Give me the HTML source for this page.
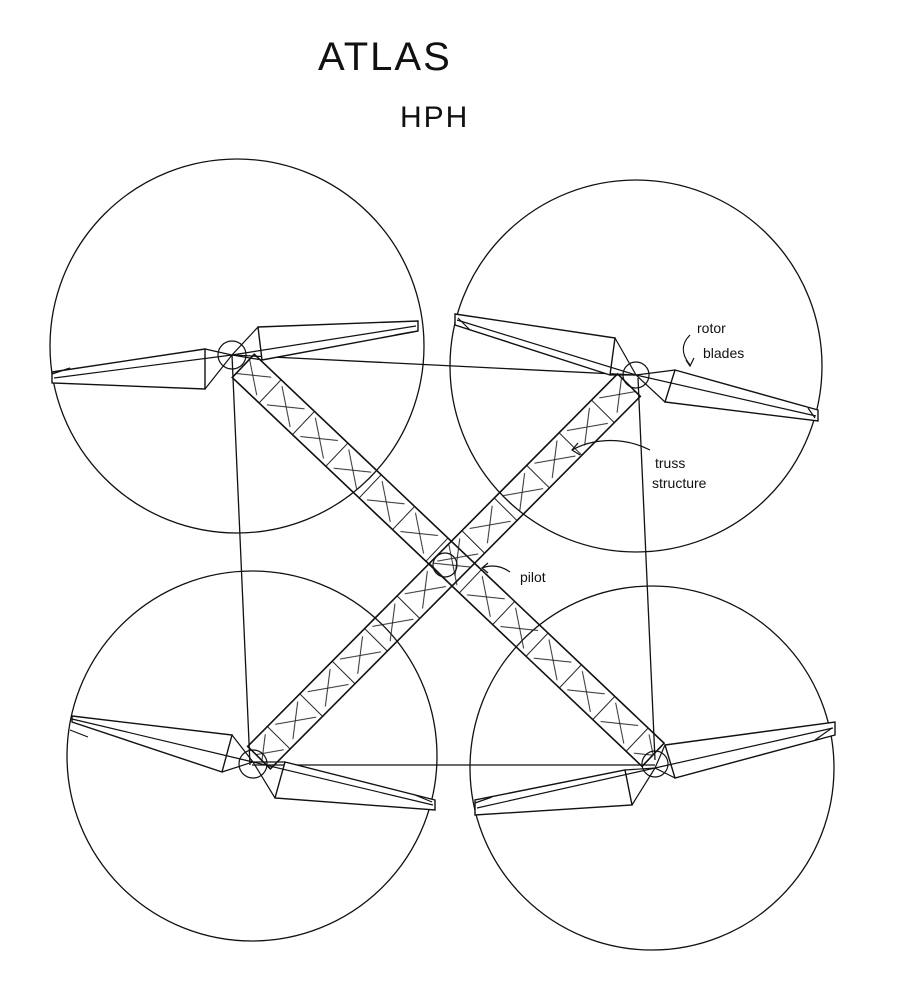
<!DOCTYPE html>
<html><head><meta charset="utf-8"><style>
html,body{margin:0;padding:0;background:#fff;}
svg{display:block}
text{font-family:"Liberation Sans",sans-serif;fill:#111}
</style></head><body>
<svg width="900" height="990" viewBox="0 0 900 990" xmlns="http://www.w3.org/2000/svg">
<defs>
<pattern id="tr" x="0" y="-16" width="46" height="32" patternUnits="userSpaceOnUse">
<path d="M1,0 L1,32 M6,4 L40,28 M8,28 L38,5" stroke="#222" stroke-width="1" fill="none"/>
</pattern>
</defs>
<g fill="none" stroke="#111" stroke-width="1.3">
<circle cx="237" cy="346" r="187"/>
<circle cx="636" cy="366" r="186"/>
<circle cx="252" cy="756" r="185"/>
<circle cx="652" cy="768" r="182"/>
<line x1="232" y1="355" x2="635" y2="375"/>
<line x1="232" y1="355" x2="250" y2="765"/>
<line x1="252" y1="765" x2="655" y2="765"/>
<line x1="638" y1="378" x2="655" y2="760"/>
</g>
<!-- trusses -->
<g transform="translate(236,359) rotate(43.5)">
<rect x="10" y="-16" width="565" height="32" fill="url(#tr)" stroke="#111" stroke-width="1.6"/>
</g>
<g transform="translate(636,378) rotate(134.8)">
<rect x="10" y="-16" width="525" height="32" fill="url(#tr)" stroke="#111" stroke-width="1.6"/>
</g>
<g fill="#fff" stroke="#111" stroke-width="1.4">
<!-- TL blades -->
<polygon points="52,372 205,349 205,389 52,383"/>
<polygon points="258,327 418,321 418,331 262,360"/>
<!-- TR blades -->
<polygon points="455,314 615,338 610,375 455,325"/>
<polygon points="675,370 818,410 818,421 665,402"/>
<!-- BL blades -->
<polygon points="72,716 232,735 222,772 72,722"/>
<polygon points="285,762 435,800 435,810 275,798"/>
<!-- BR blades -->
<polygon points="625,770 632,805 475,815 475,800"/>
<polygon points="665,745 835,722 835,735 675,778"/>
</g>
<g fill="none" stroke="#111" stroke-width="1.2">
<!-- bowties -->
<path d="M205,349 L232,355 L205,389 M258,327 L232,355 L262,360"/>
<path d="M615,338 L636,375 L610,375 M675,370 L636,375 L665,402"/>
<path d="M232,735 L253,762 L222,772 M285,762 L253,762 L275,798"/>
<path d="M625,770 L655,768 L632,805 M665,745 L655,768 L675,778"/>
<!-- blade centerlines -->
<path d="M54,378 L232,355 L416,326 M457,320 L636,375 L816,416 M72,719 L253,762 L433,805 M477,808 L655,768 L833,728"/>
<!-- tip marks -->
<path d="M52,374 L70,368 M412,332 L395,335 M458,318 L470,330 M808,408 L815,418 M70,730 L88,737 M432,802 L415,795 M475,803 L492,797 M832,728 L815,740"/>
<circle cx="232" cy="355" r="14" fill="none"/>
<circle cx="636" cy="375" r="13"/>
<circle cx="253" cy="764" r="14"/>
<circle cx="655" cy="764" r="13"/>
<circle cx="445" cy="565" r="12"/>
<!-- annotation arrows -->
<path d="M690,335 C680,345 682,355 690,365"/>
<path d="M686,360 L690,366 L694,358"/>
<path d="M650,450 C620,435 590,440 572,450"/>
<path d="M578,443 L572,450 L580,455"/>
<path d="M510,572 C500,565 490,565 482,568"/>
<path d="M488,563 L482,568 L488,573"/>
</g>
<text x="318" y="70" font-size="40" style="letter-spacing:2px">ATLAS</text>
<text x="400" y="127" font-size="30" style="letter-spacing:2px">HPH</text>
<text x="697" y="333" font-size="14">rotor</text>
<text x="703" y="358" font-size="14">blades</text>
<text x="655" y="468" font-size="14">truss</text>
<text x="652" y="488" font-size="14">structure</text>
<text x="520" y="582" font-size="14">pilot</text>
</svg>
</body></html>
